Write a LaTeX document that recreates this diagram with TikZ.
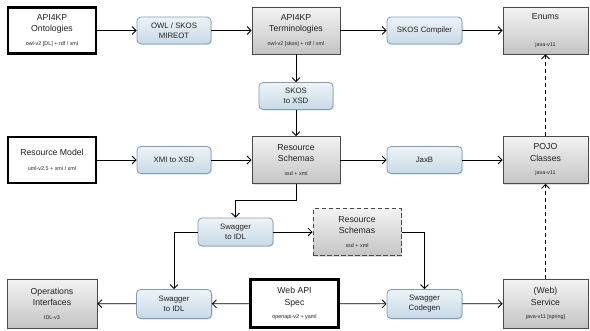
\documentclass[tikz,border=0pt]{standalone}
\usepackage{fontspec}
\setmainfont{Liberation Sans}
\usetikzlibrary{arrows.meta,shadows}

\definecolor{gtop}{HTML}{F3F3F3}
\definecolor{gbot}{HTML}{C4C4C4}
\definecolor{btop}{HTML}{EEF4F8}
\definecolor{bbot}{HTML}{C6D9E6}
\definecolor{bline}{HTML}{7F9DB3}
\definecolor{gline}{HTML}{4A4A4A}
\definecolor{txt}{HTML}{222222}

\newcommand{\subtxt}[1]{{\fontsize{5.4}{7}\selectfont #1}}

\begin{document}
\begin{tikzpicture}[x=1pt,y=-1pt]
		% Styles for the boxes and the arrows
		\tikzset{
			srcbox/.style={draw=black, line width=2.2pt, fill=white, minimum width=88pt, minimum height=46pt, align=center, text=txt, font=\fontsize{8.7}{11.5}\selectfont},
			artbox/.style={draw=gline, line width=0.8pt, top color=gtop, bottom color=gbot, minimum width=88pt, minimum height=47pt, align=center, text=txt, font=\fontsize{8.7}{11.5}\selectfont, drop shadow={opacity=0.25, shadow xshift=1pt, shadow yshift=-1pt}},
			toolbox/.style={draw=bline, line width=0.8pt, rounded corners=4pt, top color=btop, bottom color=bbot, minimum width=74pt, minimum height=27pt, align=center, text=txt, font=\fontsize{7.8}{10}\selectfont, drop shadow={opacity=0.25, shadow xshift=1pt, shadow yshift=-1pt}},
			flow/.style={-{Straight Barb[length=4pt,width=8pt]}, line width=0.8pt},
			derived/.style={flow, dash pattern=on 4pt off 3pt}
		}
		\useasboundingbox (0,0) rectangle (590,330);
		
		% Top row: ontologies to enums
		\node[srcbox] (onto) at (52,30.5) {API4KP\\Ontologies\\[2pt]\subtxt{owl-v2 [DL] + rdf / xml}};
		\node[toolbox] (mireot) at (174,30.5) {OWL / SKOS\\MIREOT};
		\node[artbox] (termin) at (296,30.5) {API4KP\\Terminologies\\[2pt]\subtxt{owl-v2 [skos] + rdf / xml}};
		\node[toolbox, minimum width=75pt] (skoscomp) at (424.5,30.5) {SKOS Compiler};
		\node[artbox, minimum width=85pt] (enums) at (545.5,30.5) {Enums\\[15pt]\subtxt{java-v11}};
		\node[toolbox] (skosxsd) at (296,96) {SKOS\\to XSD};
		
		% Middle row: resource model to classes
		\node[srcbox] (resmodel) at (52,160) {Resource Model\\[3pt]\subtxt{uml-v2.5 + xmi / xml}};
		\node[toolbox] (xmixsd) at (174,160) {XMI to XSD};
		\node[artbox] (schemas) at (296,160) {Resource\\Schemas\\[2pt]\subtxt{xsd + xml}};
		\node[toolbox, minimum width=75pt] (jaxb) at (424.5,160) {JaxB};
		\node[artbox, minimum width=85pt] (pojo) at (545.5,160) {POJO\\Classes\\[2pt]\subtxt{java-v11}};
		
		% Swagger step and the copied schemas
		\node[toolbox, minimum width=75pt, minimum height=28pt] (swupper) at (235.5,232) {Swagger\\to IDL};
		\node[artbox, draw=gline, dash pattern=on 4.5pt off 2.5pt, line width=1pt] (schemascopy) at (357,232) {Resource\\Schemas\\[2pt]\subtxt{xsd + xml}};
		
		% Bottom row: interfaces, spec and service
		\node[artbox, minimum width=90pt, minimum height=49pt] (opsif) at (52,303.5) {Operations\\Interfaces\\[2pt]\subtxt{IDL-v3}};
		\node[toolbox, minimum width=75pt, minimum height=29pt] (swlower) at (174,304) {Swagger\\to IDL};
		\node[srcbox, minimum height=48pt] (webapi) at (294.5,303.5) {Web API\\Spec\\[2pt]\subtxt{openapi-v2 + yaml}};
		\node[toolbox, minimum width=75pt, minimum height=29pt] (codegen) at (424.5,304) {Swagger\\Codegen};
		\node[artbox, minimum width=85pt, minimum height=49pt] (websvc) at (545.5,303.5) {(Web)\\Service\\[2pt]\subtxt{java-v11 [spring]}};
		
		% Arrows along the rows
		\draw[flow] (onto) -- (mireot);
		\draw[flow] (mireot) -- (termin);
		\draw[flow] (termin) -- (skoscomp);
		\draw[flow] (skoscomp) -- (enums);
		\draw[flow] (resmodel) -- (xmixsd);
		\draw[flow] (xmixsd) -- (schemas);
		\draw[flow] (schemas) -- (jaxb);
		\draw[flow] (jaxb) -- (pojo);
		\draw[flow] (webapi) -- (swlower);
		\draw[flow] (swlower) -- (opsif);
		\draw[flow] (webapi) -- (codegen);
		\draw[flow] (codegen) -- (websvc);
		
		% Arrows going down
		\draw[flow] (termin) -- (skosxsd);
		\draw[flow] (skosxsd) -- (schemas);
		\draw[flow] (schemas.south) -- ++(0,16) -| (swupper.north);
		\draw[flow] (swupper.west) -| (swlower.north);
		\draw[flow] (swupper) -- (schemascopy);
		\draw[flow] (schemascopy.east) -| (codegen.north);
		
		% Dashed arrows back up on the right
		\draw[derived] (websvc) -- (pojo);
		\draw[derived] (pojo) -- (enums);
	\end{tikzpicture}
\end{document}
